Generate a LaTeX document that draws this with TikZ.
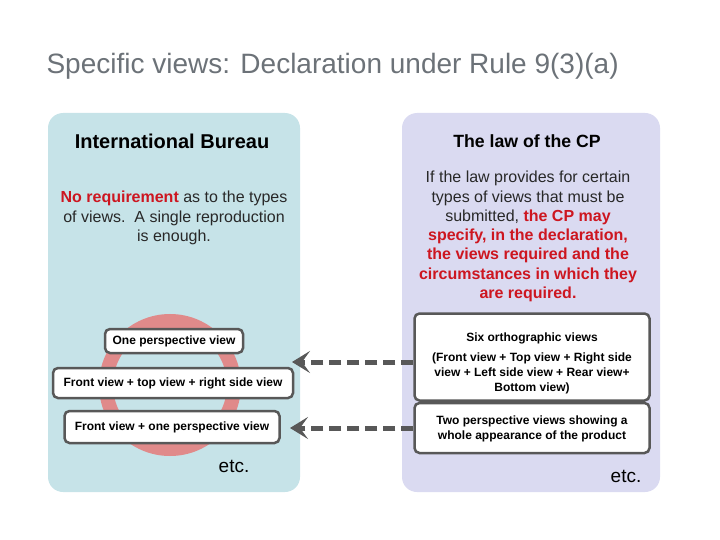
\documentclass[tikz,border=0pt]{standalone}
\usepackage{fontspec}
\setmainfont{Liberation Sans}
\usepackage{xcolor}
\usetikzlibrary{arrows.meta}

\definecolor{bureaublue}{RGB}{198,227,232}
\definecolor{cplav}{RGB}{218,218,241}
\definecolor{ringred}{RGB}{224,138,138}
\definecolor{titlegray}{RGB}{108,114,120}
\definecolor{boxgray}{RGB}{88,88,88}
\definecolor{lawred}{RGB}{205,22,32}
\definecolor{bodytext}{RGB}{40,40,40}

\tikzset{
  viewbox/.style={draw=boxgray,line width=2.5pt,fill=white,rounded corners=5pt,
    align=center,inner sep=0pt,font=\bfseries\fontsize{12}{15}\selectfont},
  backarrow/.style={draw=boxgray,line width=5pt,dash pattern=on 12pt off 6pt,
    -{Stealth[length=18pt,width=22pt,inset=8pt]}}
}

\begin{document}
\begin{tikzpicture}[x=1pt,y=-1pt]
\useasboundingbox (0,0) rectangle (720,540);

% Title
\node[anchor=west,text=titlegray,font=\fontsize{28}{32}\selectfont] (title) at (43,66) {Specific views: Declaration under Rule 9(3)(a)};

% Panels
\fill[bureaublue,rounded corners=15pt] (48,113) rectangle (300,492);
\fill[cplav,rounded corners=15pt] (402,113) rectangle (660,492);

% Headings
\node[font=\bfseries\fontsize{20}{24}\selectfont] (ibhead) at (172,141) {International Bureau};
\node[font=\bfseries\fontsize{17.7}{22}\selectfont] (cphead) at (527,141) {The law of the CP};

% Texts
\node[align=center,text=bodytext,font=\fontsize{16}{19.5}\selectfont] (ibtext) at (174,218)
  {{\color{lawred}\bfseries No requirement} as to the types\\of views.\ \ A single reproduction\\is enough.};
\node[align=center,text=bodytext,font=\fontsize{16}{19.3}\selectfont] (cptext) at (528,236.5)
  {If the law provides for certain\\types of views that must be\\submitted, {\color{lawred}\bfseries the CP may}\\
   {\color{lawred}\bfseries specify, in the declaration,}\\{\color{lawred}\bfseries the views required and the}\\
   {\color{lawred}\bfseries circumstances in which they}\\{\color{lawred}\bfseries are required.}};

% Ring
\draw[ringred,line width=14pt] (170,385) circle [radius=64];

% Boxes
\node[viewbox,minimum width=138pt,minimum height=24pt] (oneview) at (174,341) {One perspective view};
\node[viewbox,minimum width=240pt,minimum height=30pt] (threeview) at (173,383) {Front view + top view + right side view};
\node[viewbox,minimum width=215pt,minimum height=32pt] (frontpersp) at (172,427) {Front view + one perspective view};
\node[viewbox,minimum width=235pt,minimum height=87pt] (sixview) at (532,357)
  {\rule{0pt}{21pt}Six orthographic views\\[5pt](Front view + Top view + Right side\\view + Left side view + Rear view+\\Bottom view)};
\node[viewbox,minimum width=235pt,minimum height=50pt] (twopersp) at (532,428)
  {\rule{0pt}{11pt}Two perspective views showing a\\whole appearance of the product};

\node[font=\fontsize{19}{22}\selectfont] (ibetc) at (234,466) {etc.};
\node[font=\fontsize{19}{22}\selectfont] (cpetc) at (626,476) {etc.};

% Arrows
\coordinate (tipone) at (292,362);
\coordinate (tiptwo) at (290,428);
\draw[backarrow] ([yshift=-5pt]sixview.west) -- (tipone);
\draw[backarrow] (twopersp.west) -- (tiptwo);

\end{tikzpicture}
\end{document}
